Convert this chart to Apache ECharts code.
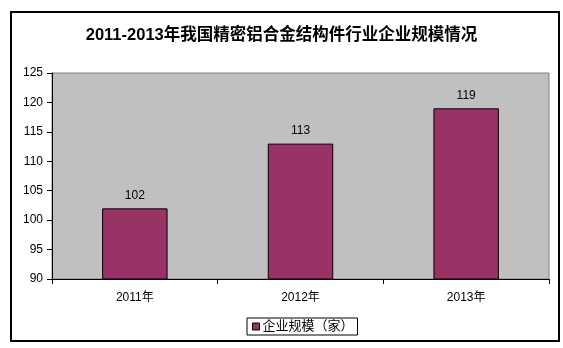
<!DOCTYPE html>
<html><head><meta charset="utf-8">
<script src="https://cdn.jsdelivr.net/npm/echarts@6/dist/echarts.min.js"></script>
<style>html,body{margin:0;padding:0;background:#fff}#c{width:563px;height:348px}</style>
</head><body><div id="c"></div>
<script>
const categories = ['2011年', '2012年', '2013年'];
const values = [102, 113, 119];
const seriesName = '企业规模（家）';
const titleText = '2011-2013年我国精密铝合金结构件行业企业规模情况';
const yMin = 90, yMax = 125, yStep = 5;

const FONT = '"Liberation Sans", Arial, "Noto Sans CJK SC", sans-serif';
const chart = echarts.init(document.getElementById('c'), null, {renderer: 'canvas'});
chart.setOption({
  animation: false,
  backgroundColor: '#fff',
  graphic: [{
    type: 'rect', left: 10, top: 11, z: -1,
    shape: {width: 548, height: 329},
    style: {fill: '#fff', stroke: '#000', lineWidth: 2}
  }],
  title: {
    text: titleText, left: 'center', top: 22,
    textStyle: {fontFamily: FONT, fontSize: 16.5, fontWeight: 'bold', color: '#000'}
  },
  grid: {
    left: 52, top: 73, right: 14, bottom: 69,
    show: true, backgroundColor: '#C0C0C0', borderColor: '#808080', borderWidth: 1
  },
  legend: {
    data: [{name: seriesName, icon: 'rect'}],
    left: 247, top: 318,
    itemWidth: 7, itemHeight: 7, itemGap: 4,
    padding: [2, 4, 2, 5],
    borderColor: '#000', borderWidth: 1,
    textStyle: {fontFamily: FONT, fontSize: 13, color: '#000', padding: [0, 0, 0, -2]},
    itemStyle: {borderColor: '#000', borderWidth: 1}
  },
  xAxis: {
    type: 'category', data: categories, boundaryGap: true,
    axisLine: {lineStyle: {color: '#000', width: 1}},
    axisTick: {show: true, inside: false, length: 5, alignWithLabel: false, lineStyle: {color: '#000'}},
    axisLabel: {fontFamily: FONT, fontSize: 12, color: '#000', margin: 13}
  },
  yAxis: {
    type: 'value', min: yMin, max: yMax, interval: yStep,
    axisLine: {show: true, lineStyle: {color: '#000', width: 1}},
    axisTick: {show: true, inside: false, length: 5, lineStyle: {color: '#000'}},
    splitLine: {show: false},
    axisLabel: {fontFamily: FONT, fontSize: 12, color: '#000', margin: 9}
  },
  series: [{
    name: seriesName, type: 'bar', data: values, barWidth: '39.5%',
    itemStyle: {color: '#993366', borderColor: '#000', borderWidth: 1},
    label: {show: true, position: 'top', distance: 7, fontFamily: FONT, fontSize: 12, color: '#000'}
  }]
});
</script></body></html>
